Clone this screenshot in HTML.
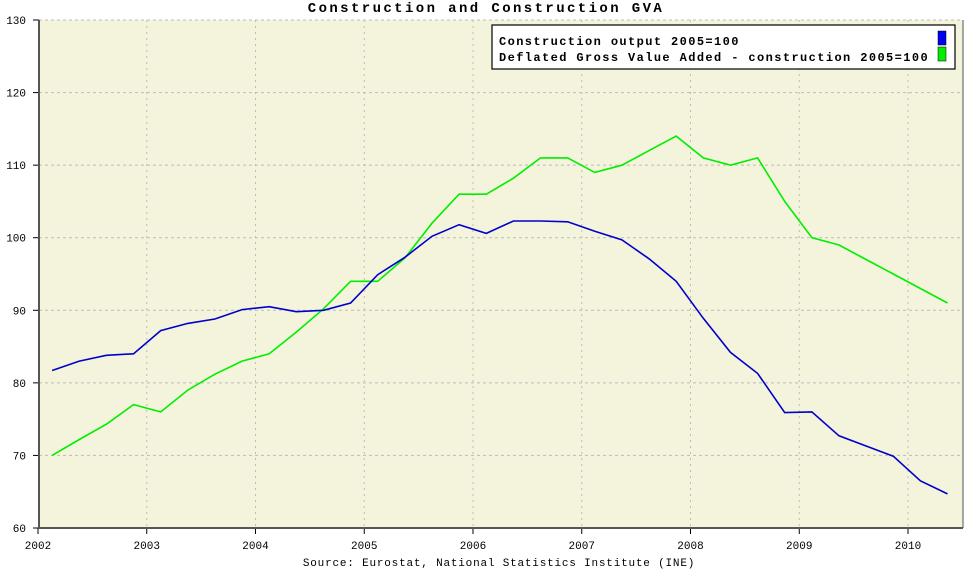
<!DOCTYPE html>
<html><head><meta charset="utf-8"><style>
body{margin:0;background:#fff;}
svg text{font-family:"Liberation Mono",monospace;}
</style></head><body>
<svg id="c" width="973" height="571" xmlns="http://www.w3.org/2000/svg">
<rect x="39" y="20" width="924" height="508" fill="#f4f4dc"/>
<text x="486" y="12" text-anchor="middle" font-size="14" font-weight="bold" letter-spacing="2.4">Construction and Construction GVA</text>
<g id="grid"></g><g id="axes"></g><g id="series"></g>
<text x="499" y="566" text-anchor="middle" font-size="11" letter-spacing="0.8">Source: Eurostat, National Statistics Institute (INE)</text>
<g>
<rect x="492" y="25" width="463" height="44" fill="#fff" stroke="#000" stroke-width="1.2"/>
<text x="499" y="45" font-size="12" font-weight="bold" letter-spacing="1.4">Construction output 2005=100</text>
<text x="499" y="61" font-size="12" font-weight="bold" letter-spacing="1.4">Deflated Gross Value Added - construction 2005=100</text>
<rect x="938" y="31" width="8" height="14" fill="#0000ee" stroke="#000" stroke-width="0.5"/>
<rect x="938" y="47" width="8" height="14" fill="#00ee00" stroke="#000" stroke-width="0.5"/>
</g>
</svg>
<script>
const years=[2002,2003,2004,2005,2006,2007,2008,2009,2010];
const yTicks=[60,70,80,90,100,110,120,130];
const startTime=2002.13;
const output=[81.7,83,83.8,84,87.2,88.2,88.8,90.1,90.5,89.8,90,91,94.9,97.3,100.2,101.8,100.6,102.3,102.3,102.2,100.9,99.7,97.1,94,88.9,84.2,81.3,75.9,76,72.7,71.3,69.9,66.5,64.7];
const gva=[70,72.2,74.3,77,76,79,81.2,83,84,87,90.2,94,94,97.2,102,106,106,108.2,111,111,109,110,112,114,111,110,111,105,100,99,97,95,93,91];
const NS="http://www.w3.org/2000/svg";
const X=t=>38+(t-2002)*108.75;
const Y=v=>528-(v-60)*7.257;
function mk(tag,attrs,parent){const e=document.createElementNS(NS,tag);for(const k in attrs)e.setAttribute(k,attrs[k]);document.getElementById(parent).appendChild(e);return e;}
yTicks.forEach(v=>{
 if(v>60){const g=mk('line',{x1:39,x2:963,y1:Y(v),y2:Y(v),stroke:'#bbb','stroke-dasharray':'3,3'},'grid');
 
 }
 const tk=mk('line',{x1:33,x2:39,y1:Y(v),y2:Y(v),stroke:'#000'},'axes');
 
 
 const t=mk('text',{x:26,y:Y(v)+4,'text-anchor':'end','font-size':11},'axes');t.textContent=v;
 
 
});
years.forEach(y=>{
 if(y>2002){const g=mk('line',{x1:X(y),x2:X(y),y1:20,y2:528,stroke:'#bbb','stroke-dasharray':'2,4'},'grid');
 
 }
 const tk=mk('line',{x1:X(y),x2:X(y),y1:528,y2:534,stroke:'#000'},'axes');
 
 
 const t=mk('text',{x:X(y),y:549,'text-anchor':'middle','font-size':11},'axes');t.textContent=y;
 
 
});
const ya=mk('line',{x1:39,x2:39,y1:20,y2:528,stroke:'#555','stroke-width':2},'axes');


const xa=mk('line',{x1:38,x2:963,y1:528,y2:528,stroke:'#555','stroke-width':2},'axes');


const ra=mk('line',{x1:963,x2:963,y1:20,y2:528,stroke:'#555','stroke-width':1},'axes');


function pts(arr){return arr.map((v,i)=>X(startTime+0.2495*i).toFixed(1)+','+Y(v).toFixed(1)).join(' ');}
const lg=mk('polyline',{points:pts(gva),fill:'none',stroke:'#00ee00','stroke-width':1.6},'series');


const lb=mk('polyline',{points:pts(output),fill:'none',stroke:'#0000cc','stroke-width':1.6},'series');


</script>
</body></html>
